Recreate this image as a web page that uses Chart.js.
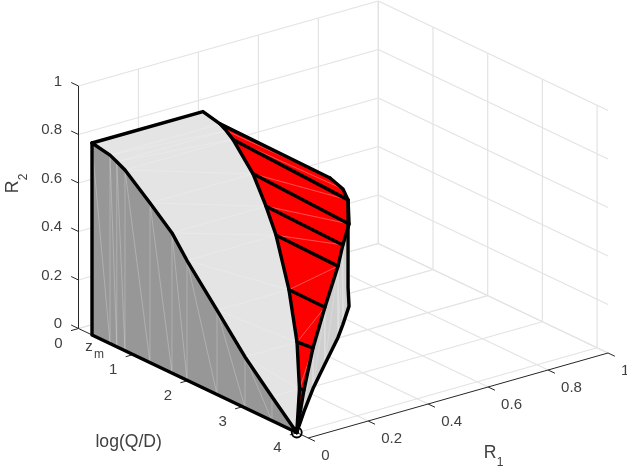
<!DOCTYPE html>
<html>
<head>
<meta charset="utf-8">
<style>html,body{margin:0;padding:0;background:#fff}canvas{display:block}</style>
<script src="https://cdn.jsdelivr.net/npm/chart.js@4"></script>
</head>
<body>
<canvas id="c" width="627" height="469"></canvas>
<script>
// Tick values and labels
const r1Ticks = [0, 0.2, 0.4, 0.6, 0.8, 1];
const r1Labels = ['0', '0.2', '0.4', '0.6', '0.8', '1'];
const r2Ticks = [0, 0.2, 0.4, 0.6, 0.8, 1];
const r2Labels = ['0', '0.2', '0.4', '0.6', '0.8', '1'];
const zTicks = [0, 1, 2, 3, 4];
const zLabels = ['0', '1', '2', '3', '4'];
const zAxisMax = 4.2;

// Rate-region surface, one entry per log(Q/D) slice
const meshZ   = [0.247, 0.576, 0.7, 0.85, 1.307, 1.709, 1.984, 2.532, 3.044, 3.537, 3.99];
const r2Max   = [0.7915, 0.777, 0.763, 0.745, 0.658, 0.578, 0.4936, 0.348, 0.21, 0.099, 0];
const r1Corner= [0.37, 0.367, 0.365, 0.36, 0.3436, 0.3135, 0.297, 0.24, 0.1735, 0.0917, 0];
const r1Max   = [0.37, 0.734, 0.7545, 0.744, 0.664, 0.57, 0.5037, 0.36, 0.2268, 0.1067, 0];
const r2Corner= [0.7915, 0.4255, 0.386, 0.361, 0.339, 0.3285, 0.294, 0.234, 0.1675, 0.089, 0];

// Orthographic view of the box (R1, R2, z) onto the page
const view = {ox: 78.5, oy: 328.5, r1x: 299.8, r1y: -85, r2y: -242.5, zx: 54.7, zy: 26.07};
const proj = (r1, r2, z) => ({
  x: view.ox + view.r1x * r1 + view.zx * z,
  y: view.oy + view.r1y * r1 + view.r2y * r2 + view.zy * z
});

const datasets = [];
function add(points, opt) {
  const i = datasets.length;
  datasets.push(Object.assign({
    data: points.map(p => proj(p[0], p[1], p[2])),
    showLine: true, tension: 0, pointRadius: 0, fill: false,
    borderColor: '#000', borderWidth: 1, borderCapStyle: 'round', borderJoinStyle: 'round',
    clip: false, order: -i
  }, opt));
}
const GRID = {borderColor: '#e3e3e3', borderWidth: 1.2, borderCapStyle: 'butt'};
const AXIS = {borderColor: '#262626', borderWidth: 1, borderCapStyle: 'butt'};
const BLACK = {borderColor: '#000', borderWidth: 3.4};
const idx = meshZ.map((_, i) => i);

// Grid on the two walls and the floor
r2Ticks.forEach(v => {
  if (v > 0) add([[0, v, 0], [1, v, 0]], GRID);
  add([[1, v, 0], [1, v, zAxisMax]], GRID);
});
r1Ticks.forEach(v => {
  if (v > 0) {
    add([[v, 0, 0], [v, 1, 0]], GRID);
    add([[v, 0, 0], [v, 0, zAxisMax]], GRID);
  }
});
zTicks.forEach(v => {
  add([[0, 0, v], [1, 0, v]], GRID);
  add([[1, 0, v], [1, 1, v]], GRID);
});
add([[0, 0, 0], [1, 0, 0]], GRID);

// Axes and ticks
add([[0, 0, 0], [0, 1, 0]], AXIS);
add([[0, 0, 0], [0, 0, zAxisMax]], AXIS);
add([[0, 0, zAxisMax], [1, 0, zAxisMax]], AXIS);
r2Ticks.forEach(v => add([[0, v, 0], [0, v, -0.134]], AXIS));
zTicks.forEach(v => add([[0, 0, v], [-0.025, 0, v]], AXIS));
r1Ticks.forEach(v => add([[v, 0, zAxisMax], [v, 0, zAxisMax + 0.125]], AXIS));

// Faces
const FACE = (c) => ({fill: 'shape', backgroundColor: c, borderColor: c, borderWidth: 0.5});
const rIdx = idx.slice(3);
add(rIdx.map(i => [r1Max[i], r2Corner[i], meshZ[i]])
   .concat(rIdx.slice().reverse().map(i => [r1Max[i], 0, meshZ[i]])), FACE('#cfcfcf'));
const SEAM = {borderColor: 'rgba(255,255,255,0.3)', borderWidth: 0.7, borderCapStyle: 'butt'};
rIdx.slice(0, -1).forEach(i => {
  add([[r1Max[i], r2Corner[i], meshZ[i]], [r1Max[i], 0, meshZ[i]]], SEAM);
  add([[r1Max[i], r2Corner[i], meshZ[i]], [r1Max[i + 1], 0, meshZ[i + 1]]], SEAM);
});

const redIdx = idx.slice(1);
add(redIdx.map(i => [r1Corner[i], r2Max[i], meshZ[i]])
   .concat(redIdx.slice().reverse().map(i => [r1Max[i], r2Corner[i], meshZ[i]])), FACE('#ff0000'));
const SEAM_RED = {borderColor: 'rgba(255,190,190,0.6)', borderWidth: 0.7, borderCapStyle: 'butt'};
redIdx.slice(0, -1).forEach(i => {
  add([[r1Corner[i + 1], r2Max[i + 1], meshZ[i + 1]], [r1Max[i], r2Corner[i], meshZ[i]]], SEAM_RED);
});

add(idx.map(i => [0, r2Max[i], meshZ[i]])
   .concat(idx.slice().reverse().map(i => [r1Corner[i], r2Max[i], meshZ[i]])), FACE('#e4e4e4'));
const SEAM_TOP = {borderColor: 'rgba(255,255,255,0.3)', borderWidth: 0.6, borderCapStyle: 'butt'};
idx.slice(1, -1).forEach(i => {
  add([[0, r2Max[i], meshZ[i]], [r1Corner[i], r2Max[i], meshZ[i]]], SEAM_TOP);
  add([[0, r2Max[i], meshZ[i]], [r1Corner[i + 1], r2Max[i + 1], meshZ[i + 1]]], SEAM_TOP);
});

add([[0, 0, meshZ[0]]].concat(idx.map(i => [0, r2Max[i], meshZ[i]])), FACE('#979797'));
const SEAM_DARK = {borderColor: 'rgba(255,255,255,0.3)', borderWidth: 0.8, borderCapStyle: 'butt'};
idx.slice(0, -1).forEach(i => {
  if (i > 0) add([[0, 0, meshZ[i]], [0, r2Max[i], meshZ[i]]], SEAM_DARK);
  add([[0, r2Max[i], meshZ[i]], [0, 0, meshZ[i + 1]]], SEAM_DARK);
});

// Black outlines
add(idx.map(i => [0, r2Max[i], meshZ[i]]), BLACK);
add([[0, r2Max[0], meshZ[0]], [0, 0, meshZ[0]], [0, 0, meshZ[meshZ.length - 1]]], BLACK);
add([[0, r2Max[0], meshZ[0]]].concat(idx.map(i => [r1Corner[i], r2Max[i], meshZ[i]])), BLACK);
add(redIdx.map(i => [r1Max[i], r2Corner[i], meshZ[i]]), BLACK);
add([[r1Corner[1], r2Max[1], meshZ[1]], [r1Max[1], r2Corner[1], meshZ[1]]], BLACK);
rIdx.slice(0, -1).forEach(i => {
  add([[r1Corner[i], r2Max[i], meshZ[i]], [r1Max[i], r2Corner[i], meshZ[i]]], BLACK);
});
add([[r1Max[3], r2Corner[3], meshZ[3]]].concat(rIdx.map(i => [r1Max[i], 0, meshZ[i]])), BLACK);

// Marker at the end point
const last = meshZ.length - 1;
add([[0, 0, meshZ[last]]], {pointRadius: 5, pointBorderColor: '#000', pointBorderWidth: 1.8,
  pointBackgroundColor: 'rgba(0,0,0,0)', showLine: false});

const TICK_FONT = '15px "Liberation Sans", Arial, sans-serif';
const LABEL_FONT = '17.6px "Liberation Sans", Arial, sans-serif';
const SUB_FONT = '12px "Liberation Sans", Arial, sans-serif';
const TEXT_COLOR = '#404040';

const textPlugin = {
  id: 'text3d',
  afterDraw(chart) {
    const {ctx, scales: {x, y}} = chart;
    const put = (s, p, dx, dy, font, align, rot) => {
      ctx.save();
      ctx.font = font; ctx.fillStyle = TEXT_COLOR;
      ctx.textAlign = align; ctx.textBaseline = 'middle';
      ctx.translate(x.getPixelForValue(p.x) + dx, y.getPixelForValue(p.y) + dy);
      if (rot) ctx.rotate(rot);
      ctx.fillText(s, 0, 0);
      ctx.restore();
    };
    r2Ticks.forEach((v, i) => put(r2Labels[i], proj(0, v, 0), -16.5, -4.5, TICK_FONT, 'right'));
    zTicks.forEach((v, i) => put(zLabels[i], proj(0, 0, v), -20, 15.5, TICK_FONT, 'center'));
    r1Ticks.forEach((v, i) => put(r1Labels[i], proj(v, 0, zAxisMax), 13, 18, TICK_FONT, 'left'));
    const page = (px, py) => ({x: px, y: py});
    put('log(Q/D)', page(128.7, 442.5), 0, 0, LABEL_FONT, 'center');
    put('z', page(89, 346.5), 0, 0, TICK_FONT, 'center');
    put('m', page(99, 354.5), 0, 0, SUB_FONT, 'center');
    put('R', page(490, 453), 0, 0, LABEL_FONT, 'center');
    put('1', page(500, 463), 0, 0, SUB_FONT, 'center');
    put('R', page(13, 187), 0, 0, LABEL_FONT, 'center', -Math.PI / 2);
    put('2', page(24, 177), 0, 0, SUB_FONT, 'center', -Math.PI / 2);
  }
};

new Chart(document.getElementById('c'), {
  type: 'scatter',
  data: {datasets},
  options: {
    responsive: false, animation: false, events: [],
    layout: {padding: 0, autoPadding: false},
    plugins: {legend: {display: false}, tooltip: {enabled: false}, title: {display: false}},
    scales: {
      x: {type: 'linear', min: 0, max: 627, display: false},
      y: {type: 'linear', min: 0, max: 469, reverse: true, display: false}
    }
  },
  plugins: [textPlugin]
});
</script>
</body>
</html>
